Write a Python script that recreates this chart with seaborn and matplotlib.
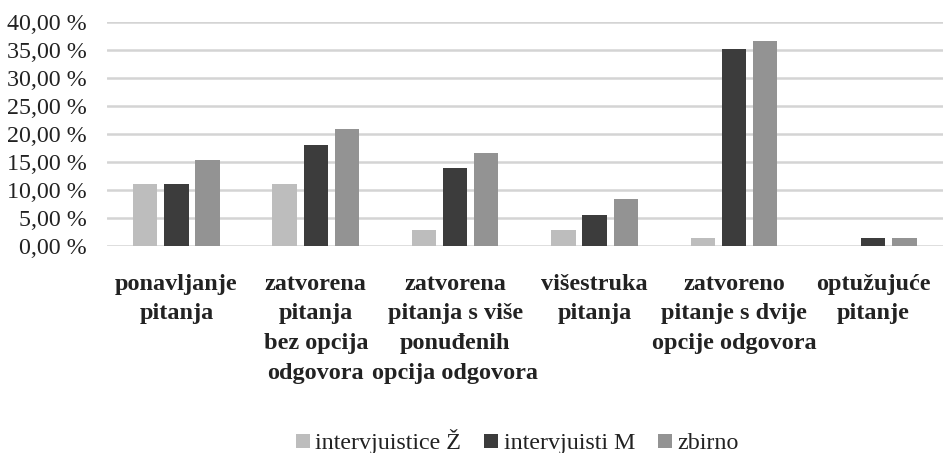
import pandas as pd
import numpy as np
import matplotlib.pyplot as plt
import seaborn as sns
from matplotlib.ticker import FuncFormatter, MultipleLocator

# Data (percent)
kategorije = [
    "ponavljanje\npitanja",
    "zatvorena\npitanja\nbez opcija\nodgovora",
    "zatvorena\npitanja s više\nponuđenih\nopcija odgovora",
    "višestruka\npitanja",
    "zatvoreno\npitanje s dvije\nopcije odgovora",
    "optužujuće\npitanje",
]
serije = ["intervjuistice Ž", "intervjuisti M", "zbirno"]
zene = [11.11, 11.11, 2.78, 2.78, 1.39, 0.0]
muski = [11.11, 18.06, 13.89, 5.56, 35.14, 1.39]
zbirno = [15.28, 20.83, 16.67, 8.33, 36.67, 1.39]
boje = ["#bdbdbd", "#3c3c3c", "#939393"]

df = pd.DataFrame({
    "kategorija": kategorije * 3,
    "serija": np.repeat(serije, len(kategorije)),
    "vrijednost": zene + muski + zbirno,
})

sns.set_style("white")
plt.rcParams["font.family"] = ["Liberation Serif", "DejaVu Serif"]

fig = plt.figure(figsize=(9.44, 4.53), dpi=100)
ax = fig.add_axes([0.113, 0.457, 0.886, 0.494])

sns.barplot(data=df, x="kategorija", y="vrijednost", hue="serija",
            palette=boje, width=0.67, gap=0.22, linewidth=0,
            legend=False, ax=ax)

ax.set_ylim(0, 40)
ax.yaxis.set_major_locator(MultipleLocator(5))
ax.yaxis.set_major_formatter(FuncFormatter(lambda v, p: f"{v:.2f}".replace(".", ",") + " %"))
ax.set_axisbelow(True)
ax.grid(axis="y", color="#d4d4d4", linewidth=1.8)
for s in ax.spines.values():
    s.set_visible(False)
ax.tick_params(axis="both", length=0)
ax.tick_params(axis="y", labelsize=17.3, pad=14, colors="#222222")
ax.tick_params(axis="x", pad=20)
for lbl in ax.get_xticklabels():
    lbl.set_fontsize(17.5)
    lbl.set_fontweight("bold")
    lbl.set_color("#222222")
    lbl.set_linespacing(1.54)
    lbl.set_va("top")
ax.set_xlabel("")
ax.set_ylabel("")
ax.set_xlim(-0.5, len(kategorije) - 0.5)

handles = [plt.Line2D([], [], marker="s", linestyle="", markersize=10.5,
                      markerfacecolor=c, markeredgewidth=0) for c in boje]
fig.legend(handles, serije, loc="lower center", bbox_to_anchor=(0.548, -0.05),
           ncol=3, frameon=False, fontsize=17.3, handlelength=0.6,
           handletextpad=0.22, columnspacing=0.95, labelcolor="#222222")

fig.savefig("out.png", dpi=100)
